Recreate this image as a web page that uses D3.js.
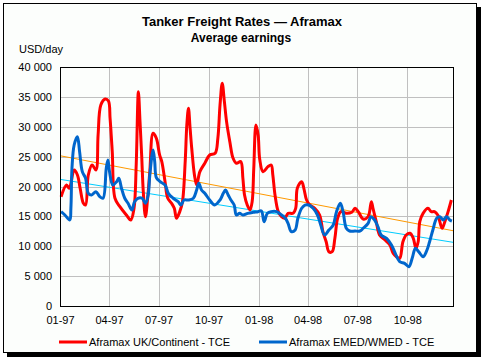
<!DOCTYPE html>
<html lang="en">
<head>
<meta charset="UTF-8">
<title>Tanker Freight Rates - Aframax</title>
<script src="https://cdn.jsdelivr.net/npm/d3@7"></script>
<style>
  body { margin: 0; background: #fff; }
  svg text { font-family: "Liberation Sans", Arial, sans-serif; fill: #000; }
</style>
</head>
<body>
<svg id="chart" width="485" height="361"></svg>
<script>
// Aframax UK/Continent - TCE (red)
var ukDates = ["1997-01-03","1997-01-13","1997-01-18","1997-01-27","1997-02-02","1997-02-07","1997-02-13","1997-02-17","1997-02-22","1997-03-01","1997-03-08","1997-03-12","1997-03-17","1997-03-25","1997-03-31","1997-04-03","1997-04-07","1997-04-12","1997-04-21","1997-05-03","1997-05-11","1997-05-17","1997-05-21","1997-05-25","1997-05-28","1997-05-31","1997-06-03","1997-06-07","1997-06-11","1997-06-15","1997-06-21","1997-06-27","1997-07-03","1997-07-07","1997-07-13","1997-07-18","1997-07-25","1997-07-30","1997-08-03","1997-08-09","1997-08-14","1997-08-19","1997-08-22","1997-08-25","1997-08-28","1997-08-31","1997-09-05","1997-09-09","1997-09-15","1997-09-24","1997-10-03","1997-10-13","1997-10-18","1997-10-22","1997-10-26","1997-10-30","1997-11-03","1997-11-09","1997-11-15","1997-11-21","1997-11-29","1997-12-03","1997-12-06","1997-12-11","1997-12-16","1997-12-20","1997-12-23","1997-12-27","1997-12-31","1998-01-03","1998-01-09","1998-01-18","1998-01-24","1998-01-27","1998-01-31","1998-02-06","1998-02-12","1998-02-18","1998-02-24","1998-03-05","1998-03-10","1998-03-13","1998-03-21","1998-03-25","1998-03-30","1998-04-05","1998-04-14","1998-04-23","1998-04-29","1998-05-05","1998-05-10","1998-05-16","1998-05-21","1998-05-26","1998-06-01","1998-06-11","1998-06-21","1998-06-27","1998-07-03","1998-07-12","1998-07-21","1998-07-27","1998-07-30","1998-08-05","1998-08-11","1998-08-21","1998-08-30","1998-09-05","1998-09-11","1998-09-17","1998-09-23","1998-09-29","1998-10-06","1998-10-12","1998-10-17","1998-10-21","1998-10-24","1998-10-30","1998-11-08","1998-11-14","1998-11-20","1998-11-26","1998-12-04","1998-12-09","1998-12-15","1998-12-21"];
var ukValues = [18300,20250,19700,22770,21930,19700,17190,16900,21930,23600,22770,28630,33650,34650,34300,31400,25830,18030,16620,15230,14400,16350,23600,35870,30850,25280,19130,14950,18030,22480,28910,28070,25280,24160,20810,18030,17190,16350,14680,15790,17460,24160,30300,33100,29750,26400,21930,20250,22480,23890,25280,25560,28070,33650,37280,34200,30850,27500,24720,23890,24160,21370,18580,16900,16070,17460,23050,30300,28630,24500,22480,23320,23600,21930,18580,15790,14950,14680,15510,15510,16350,19700,20810,19700,17740,16900,16350,15230,12440,10760,9090,9090,11330,14680,15790,15510,15680,16350,15790,14560,14950,17460,16350,14110,11890,11050,10210,8820,8250,7980,10760,11890,12170,11330,9660,10760,14110,15510,16350,15790,15790,15230,13010,14110,15790,17740];

// Aframax EMED/WMED - TCE (blue)
var medDates = ["1997-01-03","1997-01-10","1997-01-19","1997-01-21","1997-01-23","1997-01-27","1997-02-02","1997-02-06","1997-02-11","1997-02-17","1997-02-22","1997-02-28","1997-03-08","1997-03-15","1997-03-21","1997-03-27","1997-03-30","1997-04-02","1997-04-08","1997-04-15","1997-04-19","1997-04-24","1997-04-30","1997-05-06","1997-05-13","1997-05-18","1997-05-24","1997-06-01","1997-06-07","1997-06-12","1997-06-15","1997-06-21","1997-06-24","1997-06-27","1997-07-04","1997-07-13","1997-07-19","1997-07-28","1997-08-06","1997-08-11","1997-08-17","1997-08-25","1997-09-03","1997-09-09","1997-09-13","1997-09-18","1997-09-24","1997-10-03","1997-10-12","1997-10-22","1997-10-28","1997-11-01","1997-11-06","1997-11-11","1997-11-17","1997-11-21","1997-11-27","1997-12-03","1997-12-12","1997-12-22","1997-12-31","1998-01-06","1998-01-11","1998-01-17","1998-01-24","1998-02-03","1998-02-12","1998-02-19","1998-02-24","1998-03-02","1998-03-09","1998-03-14","1998-03-21","1998-03-27","1998-04-03","1998-04-11","1998-04-19","1998-04-25","1998-05-02","1998-05-10","1998-05-18","1998-05-24","1998-05-31","1998-06-05","1998-06-11","1998-06-17","1998-06-27","1998-07-06","1998-07-12","1998-07-21","1998-07-26","1998-08-02","1998-08-08","1998-08-14","1998-08-24","1998-09-02","1998-09-09","1998-09-17","1998-09-26","1998-10-04","1998-10-10","1998-10-16","1998-10-22","1998-10-30","1998-11-05","1998-11-11","1998-11-17","1998-11-24","1998-11-30","1998-12-06","1998-12-12","1998-12-18","1998-12-22"];
var medValues = [15790,15230,14400,16350,23050,26950,28340,25830,22480,21370,18860,18580,19130,18300,18030,23050,24440,22480,20250,20810,21370,19700,18030,17190,16070,17460,18030,18030,17190,18580,21930,26110,24160,21500,20810,20250,18860,18030,17460,16900,17740,17740,18030,19420,20540,19420,18860,17740,16900,17740,18860,19420,18580,17740,16900,15230,15510,15230,15510,15680,15790,15900,14110,15510,15790,15790,15230,14680,13840,12440,12720,14680,16350,16900,16900,16350,15230,13560,11890,12720,13560,15790,17190,15790,13010,12550,12550,12550,13010,13840,14950,14400,13280,11890,11330,10210,8820,7420,7140,6580,7980,9660,9090,8250,9090,10760,12720,14680,14950,14400,14950,14400,14230];

// linear trend lines (start / end values)
var trendDates = ["1997-01-01","1998-12-24"];
var ukTrend = [25150,12600];
var medTrend = [21200,10660];

var yTicks = [0,5000,10000,15000,20000,25000,30000,35000,40000];
var xTickDates = ["1997-01-01","1997-04-01","1997-07-01","1997-10-01","1998-01-01","1998-04-01","1998-07-01","1998-10-01"];

var parse = d3.timeParse("%Y-%m-%d");
var svg = d3.select("#chart");

// frame with shadow
svg.append("rect").attr("x", 7).attr("y", 7).attr("width", 474).attr("height", 350).attr("fill", "#000");
svg.append("rect").attr("x", 3.5).attr("y", 3.5).attr("width", 473).attr("height", 349)
  .attr("fill", "#fcfefc").attr("stroke", "#000").attr("stroke-width", 1);

var plotL = 60, plotR = 453, plotT = 67, plotB = 306;

var x = d3.scaleTime().domain([parse(trendDates[0]), parse(trendDates[1])]).range([plotL, plotR]);
var y = d3.scaleLinear().domain([0, 40000]).range([plotB, plotT]);

var loc = d3.formatLocale({decimal: ",", thousands: " ", grouping: [3], currency: ["", ""]});
var fmt = loc.format(",d");

// grid
svg.append("g").selectAll("line").data(yTicks.slice(1)).join("line")
  .attr("x1", plotL).attr("x2", plotR)
  .attr("y1", function(d) { return Math.round(y(d)) + 0.5; })
  .attr("y2", function(d) { return Math.round(y(d)) + 0.5; })
  .attr("stroke", "#c0c0c0").attr("stroke-width", 1);
svg.append("g").selectAll("line").data(xTickDates.slice(1)).join("line")
  .attr("x1", function(d) { return Math.round(x(parse(d))) + 0.5; })
  .attr("x2", function(d) { return Math.round(x(parse(d))) + 0.5; })
  .attr("y1", plotT).attr("y2", plotB)
  .attr("stroke", "#c0c0c0").attr("stroke-width", 1);

// axes (labels only, tick marks hidden)
var yAxis = d3.axisLeft(y).tickValues(yTicks).tickFormat(fmt).tickSize(0).tickPadding(8);
var gy = svg.append("g").attr("transform", "translate(" + plotL + ",0)").call(yAxis);
gy.select(".domain").remove();
gy.selectAll("text").attr("font-size", 11).attr("font-family", "Liberation Sans, Arial, sans-serif");

var xAxis = d3.axisBottom(x).tickValues(xTickDates.map(parse)).tickFormat(d3.timeFormat("%m-%y")).tickSize(0).tickPadding(10);
var gx = svg.append("g").attr("transform", "translate(0," + plotB + ")").call(xAxis);
gx.select(".domain").remove();
gx.selectAll("text").attr("font-size", 11).attr("font-family", "Liberation Sans, Arial, sans-serif");

// trend lines
var trendLine = d3.line()
  .x(function(d, i) { return x(parse(trendDates[i])); })
  .y(function(d) { return y(d); });
svg.append("path").attr("d", trendLine(ukTrend)).attr("fill", "none").attr("stroke", "#ff9900").attr("stroke-width", 1);
svg.append("path").attr("d", trendLine(medTrend)).attr("fill", "none").attr("stroke", "#00ccff").attr("stroke-width", 1);

// series
function seriesLine(dates) {
  return d3.line()
    .x(function(d, i) { return x(parse(dates[i])); })
    .y(function(d) { return y(d); })
    .curve(d3.curveCatmullRom.alpha(0.5));
}
svg.append("path").attr("d", seriesLine(ukDates)(ukValues))
  .attr("fill", "none").attr("stroke", "#ff0000").attr("stroke-width", 3).attr("stroke-linejoin", "round");
svg.append("path").attr("d", seriesLine(medDates)(medValues))
  .attr("fill", "none").attr("stroke", "#0066cc").attr("stroke-width", 3).attr("stroke-linejoin", "round");

// plot border
svg.append("rect").attr("x", plotL + 0.5).attr("y", plotT + 0.5).attr("width", plotR - plotL).attr("height", plotB - plotT)
  .attr("fill", "none").attr("stroke", "#000").attr("stroke-width", 1);

// titles
svg.append("text").attr("x", 242).attr("y", 26).attr("text-anchor", "middle")
  .attr("font-size", 13).attr("font-weight", "bold").text("Tanker Freight Rates — Aframax");
svg.append("text").attr("x", 241).attr("y", 42).attr("text-anchor", "middle")
  .attr("font-size", 12).attr("font-weight", "bold").text("Average earnings");
svg.append("text").attr("x", 19).attr("y", 53).attr("font-size", 11).text("USD/day");

// legend
var legend = [
  {name: "Aframax UK/Continent - TCE", color: "#ff0000", x: 59},
  {name: "Aframax EMED/WMED - TCE", color: "#0066cc", x: 259}
];
var lg = svg.append("g").selectAll("g").data(legend).join("g");
lg.append("line").attr("x1", function(d) { return d.x; }).attr("x2", function(d) { return d.x + 28; })
  .attr("y1", 342).attr("y2", 342).attr("stroke", function(d) { return d.color; }).attr("stroke-width", 3);
lg.append("text").attr("x", function(d) { return d.x + 30; }).attr("y", 346).attr("font-size", 11)
  .text(function(d) { return d.name; });
</script>
</body>
</html>
